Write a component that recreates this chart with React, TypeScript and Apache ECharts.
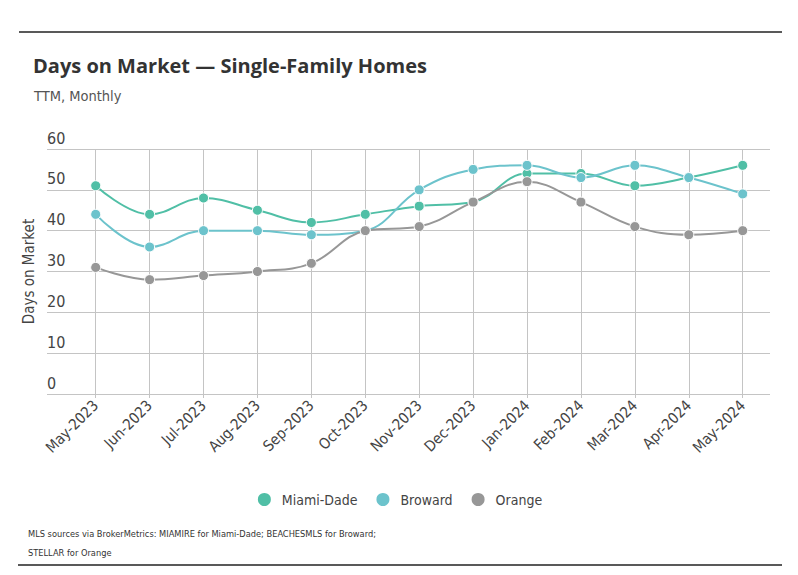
import React, { useEffect, useRef } from "react";
import * as echarts from "echarts";

const categories = [
  "May-2023", "Jun-2023", "Jul-2023", "Aug-2023", "Sep-2023", "Oct-2023", "Nov-2023",
  "Dec-2023", "Jan-2024", "Feb-2024", "Mar-2024", "Apr-2024", "May-2024",
];
const miamiDade = [51, 44, 48, 45, 42, 44, 46, 47, 54, 54, 51, 53, 56];
const broward = [44, 36, 40, 40, 39, 40, 50, 55, 56, 53, 56, 53, 49];
const orange = [31, 28, 29, 30, 32, 40, 41, 47, 52, 47, 41, 39, 40];
const yTicks = { min: 0, max: 60, interval: 10 };

const NARROW = '"Liberation Sans Narrow", "DejaVu Sans Condensed", "Roboto Condensed", sans-serif';
const COLORS = ["#50bfa6", "#6cc3cc", "#979797"];
const GRID_COLOR = "#c4c4c4";

export default function App() {
  const ref = useRef<HTMLDivElement>(null);
  useEffect(() => {
    if (!ref.current) return;
    const chart = echarts.init(ref.current, undefined, { renderer: "svg" });
    const mk = (name: string, data: number[], color: string) => ({
      name,
      type: "line",
      xAxisIndex: 1,
      yAxisIndex: 1,
      data,
      smooth: 0.4,
      symbol: "circle",
      symbolSize: 10,
      lineStyle: { width: 2, color },
      itemStyle: { color, borderColor: "#fff", borderWidth: 1 },
      emphasis: { disabled: true },
    });
    chart.setOption({
      animation: false,
      color: COLORS,
      title: [
        {
          text: "Days on Market — Single-Family Homes",
          left: 33,
          top: 55,
          padding: 0,
          textStyle: { fontFamily: "Open Sans", fontWeight: "bold", fontSize: 20, color: "#333" },
        },
        {
          text: "TTM, Monthly",
          left: 34,
          top: 88,
          padding: 0,
          textStyle: { fontFamily: NARROW, fontWeight: "normal", fontSize: 14.5, color: "#555" },
        },
        {
          text: "MLS sources via BrokerMetrics: MIAMIRE for Miami-Dade; BEACHESMLS for Broward;",
          left: 28,
          top: 529,
          padding: 0,
          textStyle: { fontFamily: NARROW, fontWeight: "normal", fontSize: 9.2, color: "#333" },
        },
        {
          text: "STELLAR for Orange",
          left: 28,
          top: 548,
          padding: 0,
          textStyle: { fontFamily: NARROW, fontWeight: "normal", fontSize: 9.2, color: "#333" },
        },
      ],
      legend: {
        top: 486,
        left: "center",
        icon: "circle",
        itemWidth: 15,
        itemHeight: 15,
        itemGap: 17,
        data: ["Miami-Dade", "Broward", "Orange"],
        textStyle: { fontFamily: NARROW, fontSize: 14, color: "#444", padding: [0, 0, 0, 5] },
      },
      grid: [
        { left: 47, right: 28, top: 149, bottom: 181 },
        { left: 95.7, right: 55.3, top: 149, bottom: 181 },
      ],
      xAxis: [
        { gridIndex: 0, type: "value", show: false, min: 0, max: 1 },
        {
          gridIndex: 1,
          type: "category",
          data: categories,
          boundaryGap: false,
          axisLine: { show: false },
          axisTick: { show: true, length: 4, lineStyle: { color: GRID_COLOR } },
          splitLine: { show: true, lineStyle: { color: GRID_COLOR, width: 1 } },
          axisLabel: {
            rotate: 45,
            interval: 0,
            margin: 9,
            fontFamily: NARROW,
            fontSize: 15,
            color: "#444",
          },
        },
      ],
      yAxis: [
        {
          gridIndex: 0,
          type: "value",
          ...yTicks,
          name: "Days on Market",
          nameLocation: "middle",
          nameRotate: 90,
          nameGap: 10,
          nameTextStyle: { fontFamily: NARROW, fontSize: 15, color: "#444" },
          axisLine: { show: false },
          axisTick: { show: false },
          splitLine: { show: true, lineStyle: { color: GRID_COLOR, width: 1 } },
          axisLabel: {
            inside: true,
            margin: 0,
            verticalAlign: "bottom",
            padding: [0, 0, 3, 0],
            fontFamily: NARROW,
            fontSize: 16,
            color: "#444",
          },
        },
        { gridIndex: 1, type: "value", ...yTicks, show: false },
      ],
      graphic: [
        { type: "line", shape: { x1: 19, y1: 32, x2: 782, y2: 32 }, style: { stroke: "#222", lineWidth: 1.5 } },
        { type: "line", shape: { x1: 18, y1: 565, x2: 782, y2: 565 }, style: { stroke: "#222", lineWidth: 1.5 } },
      ],
      series: [
        mk("Miami-Dade", miamiDade, COLORS[0]),
        mk("Broward", broward, COLORS[1]),
        mk("Orange", orange, COLORS[2]),
      ],
    });
    return () => chart.dispose();
  }, []);
  return (
    <div
      ref={ref}
      style={{ position: "fixed", left: 0, top: 0, width: 798, height: 575, background: "#fff" }}
    />
  );
}
